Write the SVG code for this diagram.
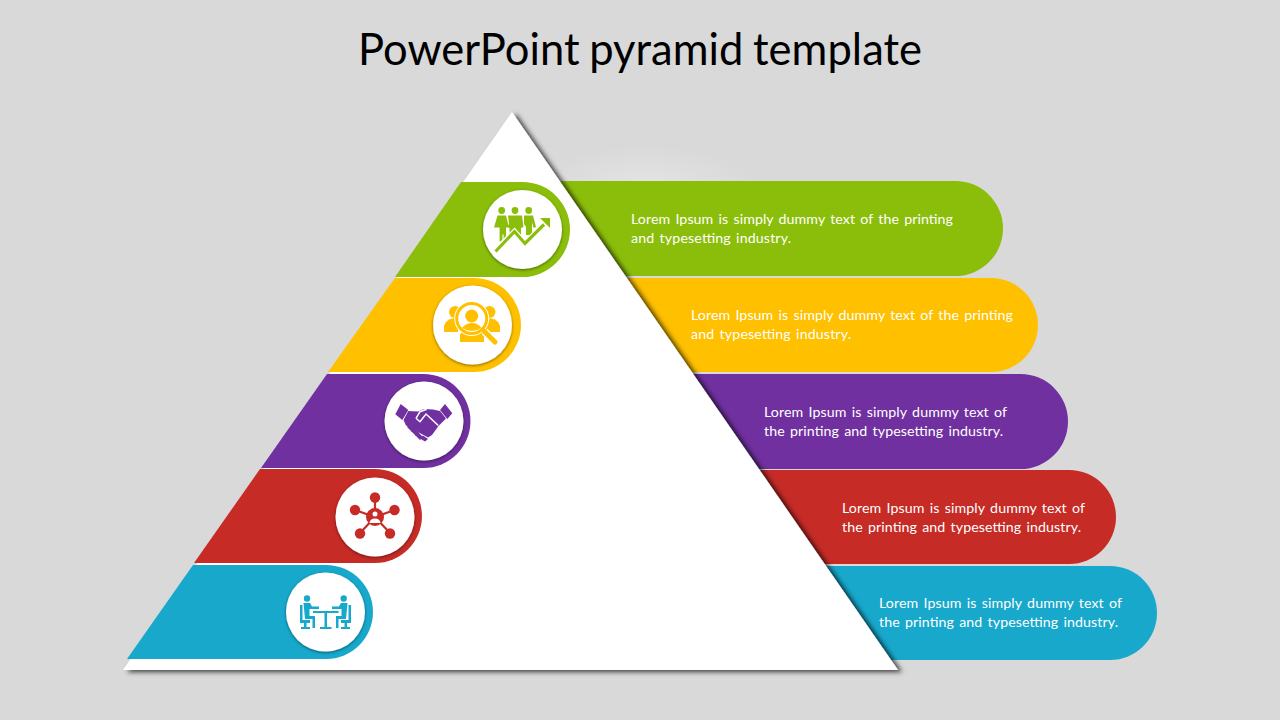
<svg xmlns="http://www.w3.org/2000/svg" width="1280" height="720" viewBox="0 0 1280 720">
<defs>
<style>
.t{font-family:"Lato","Carlito","Liberation Sans",sans-serif;font-size:14.2px;fill:#fff;word-spacing:1.5px}
.g{fill:#8BBE0A}.y{fill:#FFC000}.p{fill:#7030A0}.r{fill:#C62B26}.b{fill:#17A8CC}
.c{fill:#fff;filter:url(#cs)}
</style>
<filter id="ts" x="-5%" y="-5%" width="110%" height="110%"><feDropShadow dx="4" dy="2" stdDeviation="2.4" flood-color="#000" flood-opacity=".72"/></filter>
<filter id="cs" x="-15%" y="-15%" width="130%" height="130%"><feDropShadow dx="0" dy="1" stdDeviation="1.6" flood-color="#000" flood-opacity=".5"/></filter>
<radialGradient id="glow"><stop offset="0" stop-color="#fff" stop-opacity=".28"/><stop offset="1" stop-color="#fff" stop-opacity="0"/></radialGradient>
</defs>
<rect width="1280" height="720" fill="#D9D9D9"/>
<ellipse cx="645" cy="185" rx="110" ry="40" fill="url(#glow)"/>
<text x="640" y="65" text-anchor="middle" font-family="Lato,Carlito,'Liberation Sans',sans-serif" font-size="43.500" word-spacing="-1.500" fill="#000" textLength="564" lengthAdjust="spacing">PowerPoint pyramid template</text>

<g id="right-bars">
<path class="g" d="M540 181H955.500A47.500 47.500 0 0 1 955.500 276H540Z"/>
<path class="y" d="M600 278H991A47 47 0 0 1 991 372H600Z"/>
<path class="p" d="M670 374H1020.500A47.500 47.500 0 0 1 1020.500 469H670Z"/>
<path class="r" d="M740 470H1069A47 47 0 0 1 1069 564H740Z"/>
<path class="b" d="M800 566H1110A47 47 0 0 1 1110 660H800Z"/>
</g>
<polygon id="pyramid" points="512,112 898,670 123,670" fill="#fff" filter="url(#ts)"/>

<g id="level-1">
<path class="g" d="M461 182H522.500A47.500 47.500 0 0 1 522.500 277H395Z"/>
<circle class="c" cx="522.500" cy="229.500" r="39.500"/>
<g class="g">
<circle cx="501.700" cy="210.500" r="3.400"/><circle cx="515" cy="210.500" r="3.400"/><circle cx="528.700" cy="210.500" r="3.400"/>
<path d="M497.500 215.500H506L509 227.500H506V241.500H503.600V234.500H502.400V241.500H499.600V227.500H494Z"/>
<path d="M508 215.500H522L523.500 227L521 228V237H509.500V228L507.500 227L509 224Z"/>
<path d="M524 215.500H533L536 227L533.500 228L532 222V235H526V227L524 224Z"/>
<path d="M495.500 251.500L514.500 232.500L525 244.500L544 225.500" fill="none" stroke="#fff" stroke-width="7"/>
<path d="M495.500 251.500L514.500 231.500L525 243.500L544 224.500" fill="none" stroke="#8BBE0A" stroke-width="3.200"/>
<polygon points="540,218 550,218 550,228"/>
</g>
<text class="t"><tspan x="631" y="224" textLength="322">Lorem Ipsum is simply dummy text of the printing</tspan><tspan x="631" y="243" textLength="160">and typesetting industry.</tspan></text>
</g>

<g id="level-2">
<path class="y" d="M395 278H474A47 47 0 0 1 474 372H328Z"/>
<circle class="c" cx="472.500" cy="325" r="39.500"/>
<g class="y">
<circle cx="455" cy="312" r="6"/><circle cx="489.500" cy="312" r="6"/>
<path d="M444 332V326Q445 320 454 318L458 325V332Z"/><path d="M500 332V326Q499 320 490 318L486 325V332Z"/>
<path d="M460 342V334Q465 330 472 330Q480 330 484 334V342Z"/>
<circle cx="471.700" cy="318.500" r="17.500" fill="#fff"/>
<circle cx="471.700" cy="318.500" r="15" fill="none" stroke="#FFC000" stroke-width="3"/>
<circle cx="471.700" cy="316" r="6.500"/>
<path d="M462 328Q466 323 472 323Q478 323 481.500 328Q472 334 462 328Z"/>
<path d="M484.500 331.500L495 342" fill="none" stroke="#fff" stroke-width="8"/>
<path d="M484.500 331.500L495 342" fill="none" stroke="#FFC000" stroke-width="5" stroke-linecap="round"/>
</g>
<text class="t"><tspan x="691" y="320" textLength="322">Lorem Ipsum is simply dummy text of the printing</tspan><tspan x="691" y="339" textLength="160">and typesetting industry.</tspan></text>
</g>

<g id="level-3">
<path class="p" d="M327 374H423.500A47 47 0 0 1 423.500 468H261Z"/>
<circle class="c" cx="424" cy="421" r="39.500"/>
<g class="p">
<polygon points="400.700,404 408.300,410 402.300,420 395.300,414.300"/>
<polygon points="445,404 452.300,413.300 447.300,419 440,410"/>
<path d="M408.300 411L418 411.500L424 409L433 409.500L440 411L446 418.500L438.500 426L432 435L428 437.500L406 425.500L403.500 420Z"/>
<path d="M416 418.300L420 411.700L426.700 409.300M416 418.300L420 421.700L426 414L438.300 425.500" fill="none" stroke="#fff" stroke-width="1.500"/>
<path d="M407 427L410 424L415 429L412 432Z"/><path d="M411 431L414 428L419 433L416 436Z"/><path d="M415 435L418 432L423 437L420 440Z"/><path d="M420 438.500L423 435.500L428 439L425 441.500Z"/>
</g>
<text class="t"><tspan x="764" y="417" textLength="243">Lorem Ipsum is simply dummy text of</tspan><tspan x="764" y="436" textLength="239">the printing and typesetting industry.</tspan></text>
</g>

<g id="level-4">
<path class="r" d="M260 469H375A47 47 0 0 1 375 563H194Z"/>
<circle class="c" cx="375" cy="517" r="39.500"/>
<g class="r">
<path d="M375 497V517M355 510L375 517L394.500 510M360 533L375 517L390 533" fill="none" stroke="#C62B26" stroke-width="2.200"/>
<circle cx="375" cy="497.500" r="5.200"/><circle cx="355" cy="510" r="5.200"/><circle cx="394.500" cy="510" r="5.200"/><circle cx="360" cy="533.500" r="5.200"/><circle cx="390" cy="533.500" r="5.200"/>
<circle cx="375" cy="517" r="9"/>
<circle cx="375" cy="514" r="2.500" fill="#fff"/><path d="M369.500 523Q370 518.500 375 518.500Q380 518.500 380.500 523Z" fill="#fff"/>
</g>
<text class="t"><tspan x="842" y="513" textLength="243">Lorem Ipsum is simply dummy text of</tspan><tspan x="842" y="532" textLength="239">the printing and typesetting industry.</tspan></text>
</g>

<g id="level-5">
<path class="b" d="M193 565H326A47 47 0 0 1 326 659H127Z"/>
<circle class="c" cx="325.500" cy="612" r="39.500"/>
<g class="b">
<circle cx="307" cy="598.500" r="3.200"/><circle cx="343.700" cy="598.500" r="3.200"/>
<path d="M303.500 603H310L312 606.500H319V609H309.500V616H315V628H312.500V619H305Z"/>
<path d="M347.500 603H341L339 606.500H332V609H341.500V616H336V628H338.500V619H346Z"/>
<path d="M300 605H302.500V620H310V623H300Z"/><path d="M351 605H348.500V620H341V623H351Z"/>
<path d="M304 623H306.500V627H310V629H301V627H304Z"/><path d="M347 623H344.500V627H341V629H350V627H347Z"/>
<path d="M313 611H338.500V613H327V627H331.500V629H320V627H324.500V613H313Z"/>
</g>
<text class="t"><tspan x="879" y="608" textLength="243">Lorem Ipsum is simply dummy text of</tspan><tspan x="879" y="627" textLength="239">the printing and typesetting industry.</tspan></text>
</g>
</svg>
